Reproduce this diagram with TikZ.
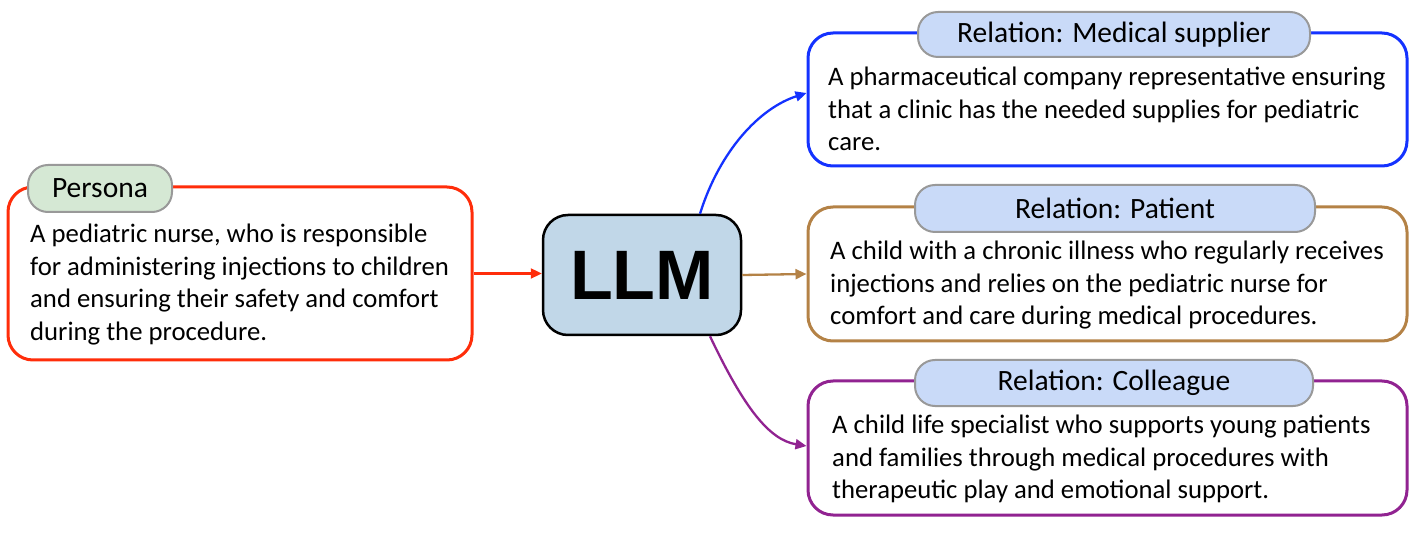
\documentclass[tikz,border=0pt]{standalone}
\usepackage{fontspec}
\setmainfont{Carlito}
\newfontfamily\llmfont{Liberation Sans}
\usetikzlibrary{arrows.meta,calc}
\definecolor{cred}{RGB}{255,45,10}
\definecolor{cblue}{RGB}{20,50,255}
\definecolor{cbrown}{RGB}{180,130,70}
\definecolor{cpurple}{RGB}{145,35,145}
\definecolor{greenfill}{HTML}{D5E8D4}
\definecolor{tagfill}{HTML}{C9DAF8}
\definecolor{llmfill}{HTML}{C1D7E8}
\definecolor{taggray}{HTML}{999999}
\tikzset{
  box/.style={draw, line width=3pt, rounded corners=25pt, fill=white, inner sep=0pt},
  tag/.style={draw=taggray, line width=2pt, rounded corners=20pt, inner sep=0pt, font=\fontsize{29.5}{34}\selectfont},
  body/.style={anchor=north west, inner sep=0pt, align=left, font=\fontsize{26.7}{32.5}\selectfont},
  conn/.style={line width=2.3pt, -{Triangle[length=11pt,width=10pt]}},
}
\begin{document}
\begin{tikzpicture}[x=1pt,y=-1pt]
\useasboundingbox (0,0) rectangle (1416,534);
% boxes
\node[box, draw=cred, minimum width=464pt, minimum height=173pt] (persona) at (240,273.5) {};
\node[box, draw=cblue, minimum width=599pt, minimum height=133pt] (supplier) at (1107.5,99.5) {};
\node[box, draw=cbrown, minimum width=599pt, minimum height=134pt] (patient) at (1107.5,274) {};
\node[box, draw=cpurple, minimum width=599pt, minimum height=134pt] (colleague) at (1107.5,448) {};
\node[draw=black, line width=2.5pt, rounded corners=25pt, fill=llmfill, minimum width=198pt, minimum height=120pt, inner sep=0pt, font=\llmfont\bfseries\fontsize{70}{70}\selectfont] (llm) at (642,275) {LLM};
% tags
\node[tag, fill=greenfill, minimum width=144pt, minimum height=47pt] (tpersona) at (100,188.5) {Persona};
\node[tag, fill=tagfill, minimum width=392pt, minimum height=45pt] (tsupplier) at (1114,34.5) {Relation: Medical supplier};
\node[tag, fill=tagfill, minimum width=400pt, minimum height=47pt] (tpatient) at (1115,208.5) {Relation: Patient};
\node[tag, fill=tagfill, minimum width=398pt, minimum height=46pt] (tcolleague) at (1114,383) {Relation: Colleague};
% texts
\node[body] (xpersona) at (30,224) {A pediatric nurse, who is responsible\\for administering injections to children\\and ensuring their safety and comfort\\during the procedure.};
\node[body] (xsupplier) at (828,67) {A pharmaceutical company representative ensuring\\that a clinic has the needed supplies for pediatric\\care.};
\node[body] (xpatient) at (830,241) {A child with a chronic illness who regularly receives\\injections and relies on the pediatric nurse for\\comfort and care during medical procedures.};
\node[body] (xcolleague) at (832,415) {A child life specialist who supports young patients\\and families through medical procedures with\\therapeutic play and emotional support.};
% connectors
\draw[conn, cred] (persona.east) -- (llm.west |- persona.east);
\draw[conn, cbrown] (llm.east) -- (patient.west);
\draw[conn, cblue] ($(llm.north)+(58,0)$) .. controls (720,150) and (760,108) .. ($(supplier.west)+(0,-6.5)$);
\draw[conn, cpurple] ($(llm.south)+(68,0)$) .. controls (745,410) and (770,440) .. ($(colleague.west)+(0,-2)$);
\end{tikzpicture}
\end{document}
